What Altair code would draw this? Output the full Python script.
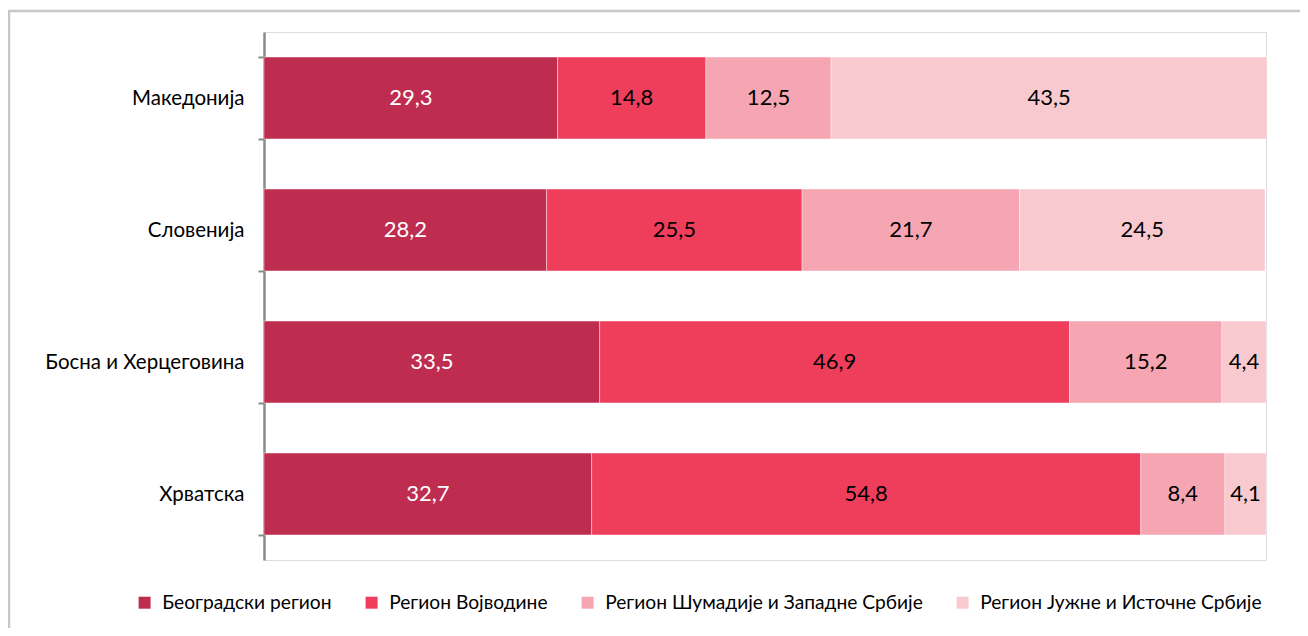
import altair as alt
import pandas as pd

countries = ["Македонија", "Словенија", "Босна и Херцеговина", "Хрватска"]
series = ["Београдски регион", "Регион Војводине",
          "Регион Шумадије и Западне Србије", "Регион Јужне и Источне Србије"]
colors = ["#BE2C50", "#EF3E5C", "#F6A6B2", "#F9C9D0"]
label_colors = ["white", "black", "black", "black"]

beograd = [29.3, 28.2, 33.5, 32.7]
vojvodina = [14.8, 25.5, 46.9, 54.8]
sumadija = [12.5, 21.7, 15.2, 8.4]
jug = [43.5, 24.5, 4.4, 4.1]

rows = []
for i, c in enumerate(countries):
    for j, (s, vals) in enumerate(zip(series, [beograd, vojvodina, sumadija, jug])):
        rows.append({"country": c, "series": s, "value": vals[i], "order": j,
                     "tcolor": label_colors[j]})
df = pd.DataFrame(rows)

FONT = "Lato"

base = alt.Chart(df).transform_stack(
    stack="value", groupby=["country"], as_=["x0", "x1"],
    sort=[alt.SortField("order", order="ascending")]
).transform_calculate(
    mid="(datum.x0 + datum.x1) / 2",
    lab="replace(format(datum.value, '.1f'), '.', ',')"
)

yenc = alt.Y("country:N", sort=countries, title=None,
             scale=alt.Scale(paddingInner=0.38, paddingOuter=0.19),
             axis=alt.Axis(domainColor="#8a8a8a", domainWidth=2.5,
                           tickColor="#8a8a8a", tickWidth=2, tickSize=6,
                           tickBand="extent", labelFontSize=20.5,
                           labelColor="black", labelPadding=14, labelFont=FONT,
                           labelLimit=0))

bars = base.mark_bar(stroke="white", strokeWidth=0.8, strokeOpacity=0.5).encode(
    x=alt.X("x0:Q", scale=alt.Scale(domain=[0, 100], nice=False), axis=None),
    x2="x1:Q",
    y=yenc,
    color=alt.Color("series:N", sort=series,
                    scale=alt.Scale(domain=series, range=colors),
                    legend=alt.Legend(title=None, orient="none", direction="horizontal",
                                      legendX=-129, legendY=561,
                                      symbolType="square", symbolSize=144,
                                      symbolStrokeWidth=0, labelFontSize=19.2,
                                      labelFont=FONT, labelColor="black",
                                      labelOffset=8, columnPadding=30,
                                      labelLimit=0)),
)

text = base.mark_text(fontSize=22, font=FONT).encode(
    x=alt.X("mid:Q"),
    y=alt.Y("country:N", sort=countries),
    text="lab:N",
    color=alt.Color("tcolor:N", scale=None, legend=None),
)

dummy = pd.DataFrame({"a": [0]})
frame_top = alt.Chart(dummy).mark_rule(color="#C8C8C8", strokeWidth=2.5).encode(
    x=alt.value(-256), x2=alt.value(1100), y=alt.value(-21))
frame_left = alt.Chart(dummy).mark_rule(color="#C8C8C8", strokeWidth=2.5).encode(
    x=alt.value(-255), y=alt.value(-22), y2=alt.value(700))

chart = alt.layer(frame_top, frame_left, bars, text).properties(
    width=1002, height=528,
    autosize=alt.AutoSizeParams(type="none"),
    padding={"left": 256, "top": 24, "right": 34, "bottom": 68},
).configure_view(stroke=None).configure(font=FONT)

chart.save("out.html", embed_options={"renderer": "svg", "actions": False})
